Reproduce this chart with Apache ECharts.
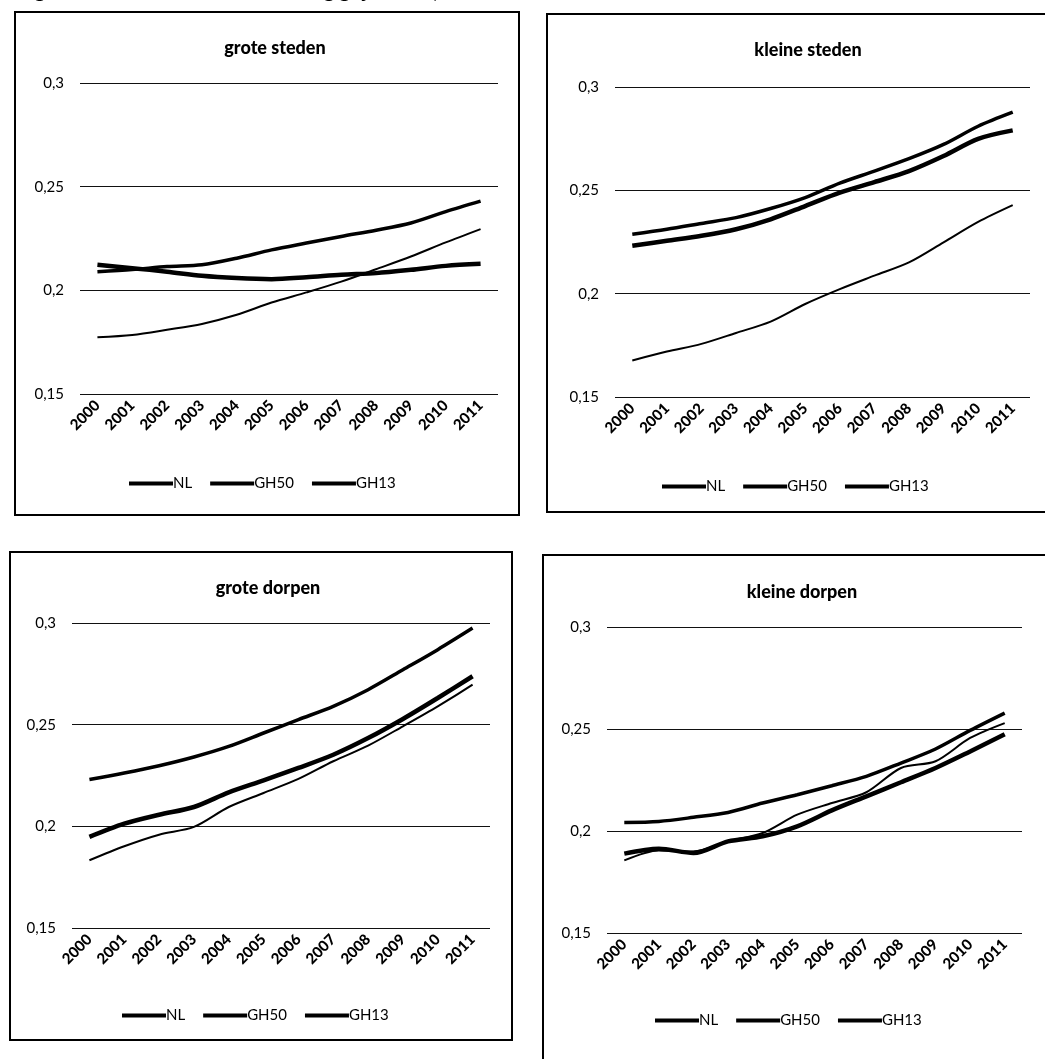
<!DOCTYPE html>
<html>
<head>
<meta charset="utf-8">
<script src="https://cdn.jsdelivr.net/npm/echarts@6/dist/echarts.min.js"></script>
<style>
html,body{margin:0;padding:0;background:#fff;}
#c{width:1045px;height:1059px;}
</style>
</head>
<body>
<div id="c"></div>
<script>
// ---- data ----
const years = ['2000','2001','2002','2003','2004','2005','2006','2007','2008','2009','2010','2011'];
const seriesNames = ['NL','GH50','GH13'];
const panelTitles = ['grote steden','kleine steden','grote dorpen','kleine dorpen'];
const yTicks = [0.15, 0.2, 0.25, 0.3];

// grote steden
const groteStedenNL   = [0.209,0.210,0.2115,0.2123,0.2155,0.2195,0.2228,0.226,0.229,0.2325,0.238,0.243];
const groteStedenGH50 = [0.2123,0.2107,0.209,0.207,0.2059,0.2054,0.2063,0.2075,0.2083,0.2099,0.2118,0.2128];
const groteStedenGH13 = [0.1774,0.1785,0.181,0.1838,0.1882,0.1941,0.199,0.2042,0.2102,0.2163,0.2231,0.2295];
// kleine steden
const kleineStedenNL   = [0.2288,0.2312,0.234,0.2368,0.2412,0.2465,0.2535,0.2593,0.2653,0.2722,0.281,0.2878];
const kleineStedenGH50 = [0.2232,0.2256,0.228,0.2312,0.236,0.2424,0.2489,0.254,0.2593,0.2666,0.2749,0.279];
const kleineStedenGH13 = [0.1677,0.172,0.1757,0.181,0.1865,0.195,0.2022,0.2087,0.2151,0.2248,0.2347,0.2428];
// grote dorpen
const groteDorpenNL   = [0.223,0.2262,0.2298,0.2341,0.2393,0.2459,0.2525,0.259,0.2672,0.277,0.2869,0.2975];
const groteDorpenGH50 = [0.1948,0.2013,0.2057,0.2095,0.2167,0.2226,0.2287,0.2352,0.2434,0.2528,0.2631,0.2738];
const groteDorpenGH13 = [0.1833,0.1902,0.1959,0.1997,0.2095,0.2164,0.2233,0.232,0.2397,0.2492,0.259,0.2697];
// kleine dorpen
const kleineDorpenNL   = [0.2042,0.2047,0.2067,0.2091,0.2137,0.2178,0.2222,0.2268,0.2333,0.2402,0.2493,0.2578];
const kleineDorpenGH50 = [0.1889,0.1913,0.1892,0.1949,0.1974,0.2023,0.2101,0.217,0.2239,0.2309,0.239,0.2474];
const kleineDorpenGH13 = [0.1856,0.1905,0.190,0.1949,0.199,0.208,0.2137,0.219,0.2309,0.2342,0.2456,0.2529];

const panelData = [
  [groteStedenNL, groteStedenGH50, groteStedenGH13],
  [kleineStedenNL, kleineStedenGH50, kleineStedenGH13],
  [groteDorpenNL, groteDorpenGH50, groteDorpenGH13],
  [kleineDorpenNL, kleineDorpenGH50, kleineDorpenGH13]
];

// ---- layout ----
const FONT = 'Lato, "Open Sans", sans-serif';
const grids = [
  {left:80,  top:83,  width:418, height:311},
  {left:615, top:87,  width:415, height:310},
  {left:72,  top:623, width:418, height:305},
  {left:607, top:627, width:415, height:306}
];
const titlePos = [{x:270,y:34},{x:803,y:36},{x:263,y:574},{x:797,y:578}];
const legendPos = [{x:124,y:471},{x:657,y:474},{x:117,y:1003},{x:650,y:1008}];
const frames = [
  {x:15, y:12, w:504, h:503},
  {x:547,y:14, w:520, h:498},
  {x:10, y:552,w:502, h:488},
  {x:543,y:555,w:530, h:530}
];
const widths = [3.5, 4.5, 2];

const option = {
  animation:false,
  backgroundColor:'#fff',
  textStyle:{fontFamily:FONT, color:'#000'},
  title: panelTitles.map((t,i)=>({
    text:t, left:titlePos[i].x, top:titlePos[i].y, textAlign:'center',
    textStyle:{fontSize:18, fontWeight:900, color:'#000', fontFamily:FONT}
  })),
  legend: panelTitles.map((t,i)=>({
    data: seriesNames.map(n=>({name:n+'\u200b'.repeat(i), icon:'rect'})),
    left:legendPos[i].x, top:legendPos[i].y,
    itemWidth:44, itemHeight:4, itemGap:18,
    formatter: n=>n.replace(/\u200b/g,''),
    textStyle:{fontSize:15, color:'#000', fontFamily:FONT, padding:[0,0,0,-5]},
    selectedMode:false
  })),
  grid: grids.map(g=>({left:g.left, top:g.top, width:g.width, height:g.height, containLabel:false})),
  xAxis: grids.map((g,i)=>({
    type:'category', gridIndex:i, data:years, boundaryGap:true,
    axisLine:{show:false}, axisTick:{show:false},
    axisLabel:{rotate:45, fontSize:15, fontWeight:900, color:'#000', margin:9, interval:0, fontFamily:FONT}
  })),
  yAxis: grids.map((g,i)=>({
    type:'value', gridIndex:i, min:yTicks[0], max:yTicks[yTicks.length-1], interval:0.05,
    axisLine:{show:false}, axisTick:{show:false},
    splitLine:{lineStyle:{color:'#111', width:1.2}},
    axisLabel:{fontSize:15, color:'#000', margin:16, fontFamily:FONT,
      formatter:v=>String(Math.round(v*100)/100).replace('.',',')}
  })),
  series: [],
  graphic: []
};

panelData.forEach((arr,i)=>{
  arr.forEach((vals,k)=>{
    option.series.push({
      type:'line', name:seriesNames[k]+'\u200b'.repeat(i),
      xAxisIndex:i, yAxisIndex:i, data:vals,
      smooth:0.3, symbol:'none', z:3-k+2,
      lineStyle:{color:'#000', width:widths[k]},
      itemStyle:{color:'#000'}
    });
  });
});

frames.forEach(f=>{
  option.graphic.push({
    type:'rect', shape:{x:f.x, y:f.y, width:f.w, height:f.h},
    style:{fill:null, stroke:'#000', lineWidth:2}, silent:true, z:100
  });
});
option.graphic.push({
  type:'text', left:18, top:-18,
  style:{text:'Figuur', font:'900 20px '+FONT, fill:'#000'}
});
option.graphic.push({
  type:'text', left:214, top:-18,
  style:{text:'Ontwikkeling grijze druk, 2011', font:'900 20px '+FONT, fill:'#000'}
});

const chart = echarts.init(document.getElementById('c'), null, {renderer:'canvas'});
chart.setOption(option);
</script>
</body>
</html>
